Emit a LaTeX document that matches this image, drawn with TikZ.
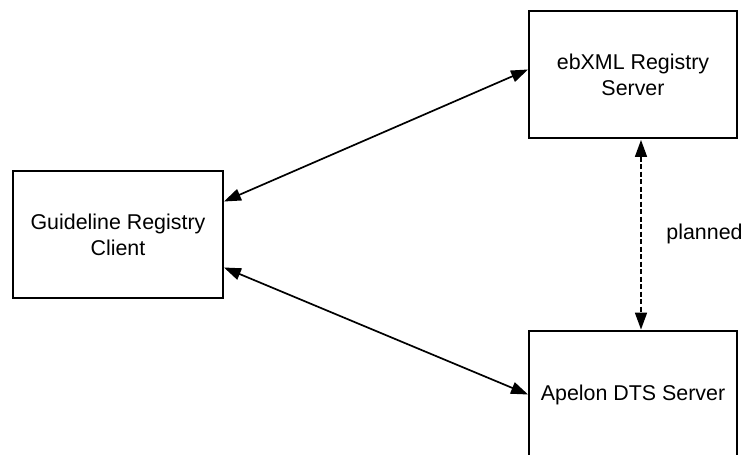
\documentclass[tikz,border=0pt]{standalone}
\usepackage{fontspec}
\setmainfont{Liberation Sans}
\usetikzlibrary{arrows.meta,calc}
\tikzset{
  server/.style={draw=black,line width=1.9pt,minimum width=208pt,minimum height=127pt,inner sep=0pt,align=center,font=\fontsize{21.4pt}{26pt}\selectfont},
  link/.style={line width=1.7pt,{Triangle[length=17pt,width=12pt]}-{Triangle[length=17pt,width=12pt]}},
  planned/.style={link,dash pattern=on 5pt off 2.5pt},
  note/.style={inner sep=0pt,font=\fontsize{21.4pt}{26pt}\selectfont}
}
\begin{document}
\begin{tikzpicture}[x=1pt,y=-1pt]
\useasboundingbox (0,0) rectangle (742,455);
\node[server] (ebxml) at (633,74.5) {ebXML Registry\\Server};
\node[server,minimum width=210pt] (client) at (118,234.5) {Guideline Registry\\Client};
\node[server] (apelon) at (633,394.5) {Apelon DTS Server};
\node[note] (plannedlabel) at (704.5,234) {planned};
\draw[link] ($(client.east)+(0,-33)$) -- ($(ebxml.west)+(0,-5)$);
\draw[link] ($(client.east)+(0,33)$) -- ($(apelon.west)+(0,0)$);
\draw[planned] ($(ebxml.south)+(8,1)$) -- ($(apelon.north)+(8,-0.5)$);
\end{tikzpicture}
\end{document}
